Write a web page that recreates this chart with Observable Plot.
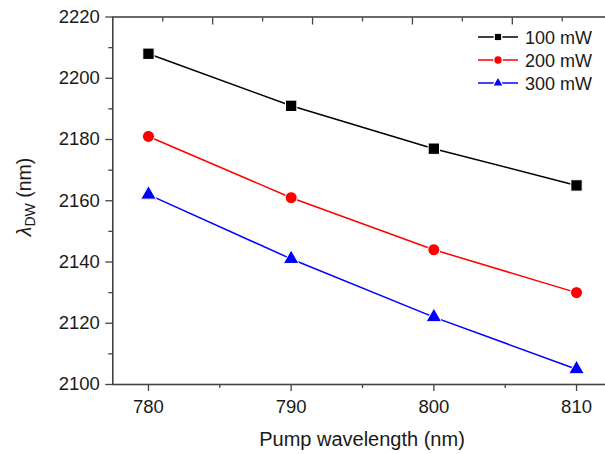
<!DOCTYPE html>
<html><head><meta charset="utf-8">
<script src="https://cdn.jsdelivr.net/npm/d3@7"></script>
<script src="https://cdn.jsdelivr.net/npm/@observablehq/plot@0.6"></script>
<style>
html,body{margin:0;padding:0;background:#fff;overflow:hidden}
#wrap{position:relative;width:605px;height:454px;overflow:hidden}
svg{overflow:hidden}
</style></head><body><div id="wrap"></div>
<script>
const wavelengths = [780, 790, 800, 810];
const power100 = [2208, 2191, 2177, 2165];
const power200 = [2181, 2161, 2144, 2130];
const power300 = [2162, 2141, 2122, 2105];
const seriesNames = ["100 mW", "200 mW", "300 mW"];
const seriesValues = [power100, power200, power300];
const seriesColors = ["#000000", "#ff0000", "#0000ff"];
const seriesSymbols = ["square", "circle", "triangle"];
const xTicks = [780, 790, 800, 810];
const xMinorTicks = [785, 795, 805];
const yTicks = [2100, 2120, 2140, 2160, 2180, 2200, 2220];
const yMinorTicks = [2110, 2130, 2150, 2170, 2190, 2210];
const topTicks = [784.5, 791.5, 798.5, 805.5];
const topMinorTicks = [781, 788, 795, 802, 809];
const rightTicks = [2124, 2148, 2172, 2196];

const data = [];
seriesNames.forEach((s, i) => wavelengths.forEach((w, j) => data.push({series: s, x: w, y: seriesValues[i][j]})));

const axisColor = "#444";
const dotR = {"square": 6.4, "circle": 6.0, "triangle": 5.8};

const marks = [
  Plot.line(data, {x: "x", y: "y", z: "series", stroke: "series", strokeWidth: 1.5}),
  ...seriesNames.map((s, i) => Plot.dot(data.filter(d => d.series === s),
    {x: "x", y: "y", fill: seriesColors[i], stroke: "#fff", strokeWidth: 1, symbol: () => seriesSymbols[i], r: dotR[seriesSymbols[i]]})),
  Plot.axisX({ticks: xTicks, tickSize: 7, tickPadding: 8, fontSize: 18.5, stroke: axisColor, strokeWidth: 1.3, tickFormat: d3.format("d"), label: null}),
  Plot.axisX({ticks: xMinorTicks, tickSize: 4, stroke: axisColor, strokeWidth: 1.3, fill: "none", label: null}),
  Plot.axisX({anchor: "top", ticks: topTicks, tickSize: 7, dy: 7, stroke: axisColor, strokeWidth: 1.3, fill: "none", label: null}),
  Plot.axisX({anchor: "top", ticks: topMinorTicks, tickSize: 4, dy: 4, stroke: axisColor, strokeWidth: 1.3, fill: "none", label: null}),
  Plot.axisY({ticks: yTicks, tickSize: 7, tickPadding: 6, fontSize: 18.5, stroke: axisColor, strokeWidth: 1.3, tickFormat: d3.format("d"), label: null}),
  Plot.axisY({ticks: yMinorTicks, tickSize: 4, stroke: axisColor, strokeWidth: 1.3, fill: "none", label: null}),
  Plot.axisY({anchor: "right", ticks: rightTicks, tickSize: 7, dx: -7, stroke: axisColor, strokeWidth: 1.3, fill: "none", label: null}),
  Plot.frame({stroke: axisColor, strokeWidth: 1.6})
];

const svg = Plot.plot({
  width: 605, height: 454,
  marginLeft: 112.3, marginRight: -6.7, marginTop: 16.5, marginBottom: 70,
  style: {fontFamily: "'Liberation Sans', Arial, sans-serif", color: "#1a1a1a", background: "#fff", overflow: "hidden"},
  x: {domain: [777.5, 812.5]},
  y: {domain: [2100, 2220]},
  color: {domain: seriesNames, range: seriesColors},
  marks
});
document.getElementById("wrap").appendChild(svg);

const s = d3.select(svg);
// x label
s.append("text").attr("x", 362).attr("y", 446).attr("text-anchor", "middle")
  .attr("font-size", 20).attr("fill", "#1a1a1a").text("Pump wavelength (nm)");
// y label
const yl = s.append("text").attr("transform", "translate(31,197) rotate(-90)").attr("text-anchor", "middle")
  .attr("font-size", 19.5).attr("fill", "#1a1a1a");
yl.append("tspan").attr("font-style", "italic").text("λ");
yl.append("tspan").attr("font-size", 14).attr("dy", 4).text("DW");
yl.append("tspan").attr("dy", -4).text(" (nm)");
// legend
const lg = s.append("g");
const legendSize = {"square": 38, "circle": 42, "triangle": 32};
seriesNames.forEach((name, i) => {
  const cy = 37 + i * 23;
  const g = lg.append("g").attr("transform", `translate(0,${cy})`);
  g.append("line").attr("x1", 478).attr("x2", 518).attr("y1", 0).attr("y2", 0)
    .attr("stroke", seriesColors[i]).attr("stroke-width", 1.5);
  const sym = {square: d3.symbolSquare, circle: d3.symbolCircle, triangle: d3.symbolTriangle}[seriesSymbols[i]];
  g.append("path").attr("transform", "translate(498,0)").attr("d", d3.symbol(sym, legendSize[seriesSymbols[i]])())
    .attr("fill", seriesColors[i]).attr("stroke", "#fff").attr("stroke-width", 2.5).attr("paint-order", "stroke");
  g.append("text").attr("x", 525).attr("y", 6.5).attr("text-anchor", "start").attr("font-size", 18)
    .attr("fill", "#1a1a1a").text(name);
});
</script></body></html>
